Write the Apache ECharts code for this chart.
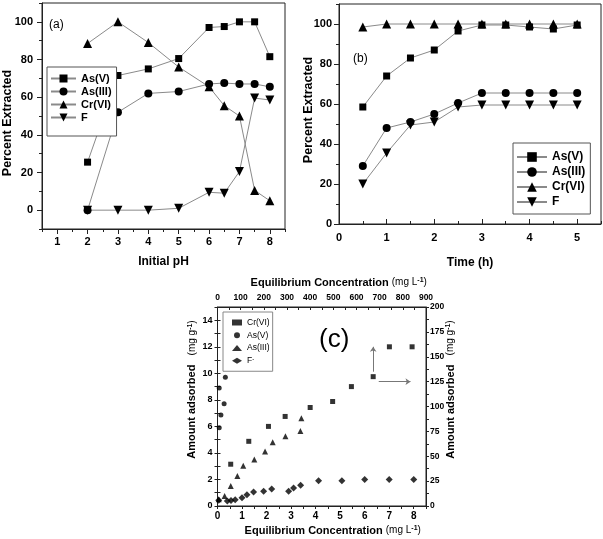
<!DOCTYPE html>
<html><head><meta charset="utf-8">
<script src="https://cdn.jsdelivr.net/npm/echarts@6/dist/echarts.min.js"></script>
<style>html,body{margin:0;padding:0;background:#fff}#c{width:603px;height:539px}</style>
</head><body><div id="c"></div>
<script>
// ---------- Panel (a): percent extracted vs initial pH ----------
const phValues = [2, 3, 4, 5, 6, 6.5, 7, 7.5, 8];
const phAsV   = [25.5, 71.5, 75, 80.5, 97, 97.5, 100, 100, 81.5];
const phAsIII = [0, 52, 62, 63, 67, 67.5, 67, 67, 65.5];
const phCrVI  = [88.5, 100, 89, 76, 65.5, 55.5, 50, 10.5, 5];
const phF     = [0, 0, 0, 1, 9.5, 9, 20.5, 59.5, 58.5];
// ---------- Panel (b): percent extracted vs time ----------
const timeValues = [0.5, 1, 1.5, 2, 2.5, 3, 3.5, 4, 4.5, 5];
const tAsV   = [58.5, 74, 83, 87, 96.5, 99.5, 99.5, 98.5, 97.5, 99.5];
const tAsIII = [29, 48, 51, 55, 60.5, 65.5, 65.5, 65.5, 65.5, 65.5];
const tCrVI  = [98.5, 100, 100, 100, 100, 100, 100, 100, 100, 100];
const tF     = [20, 35.5, 49.5, 51, 58.5, 59.5, 59.5, 59.5, 59.5, 59.5];
// ---------- Panel (c): adsorption isotherms ----------
// Cr(VI) is read on the top (mg/L) and right (mg/g) axes
const crEqConc   = [57, 135, 220, 292, 400, 497, 578, 672, 742, 840];
const crAdsorbed = [42, 65, 80, 90, 99, 105, 120, 130, 160, 160];
const asVEqConc   = [0.07, 0.07, 0.14, 0.27, 0.32];
const asVAdsorbed = [5.9, 8.9, 6.85, 7.7, 9.7];
const asIIIEqConc   = [0.05, 0.29, 0.54, 0.81, 1.05, 1.5, 1.94, 2.25, 2.77, 3.38, 3.42];
const asIIIAdsorbed = [0.5, 0.76, 1.5, 2.27, 3.03, 3.5, 4.1, 4.8, 5.25, 5.65, 6.62];
const fEqConc   = [0.05, 0.4, 0.55, 0.72, 1.0, 1.2, 1.47, 1.88, 2.21, 2.9, 3.1, 3.39, 4.12, 5.07, 6.0, 7.0, 8.0];
const fAdsorbed = [0.43, 0.38, 0.42, 0.48, 0.62, 0.85, 1.05, 1.12, 1.28, 1.12, 1.36, 1.57, 1.9, 1.9, 2.0, 2.0, 2.0];
// arrows (data coords on top/right axes)
const arrowUp    = [[672, 135], [672, 160]];
const arrowRight = [[696, 125], [833, 125]];
// ---------- tick labels ----------
const phTicks   = [1, 2, 3, 4, 5, 6, 7, 8];
const pctTicks  = [0, 20, 40, 60, 80, 100];
const timeTicks = [0, 1, 2, 3, 4, 5];
const concTicks = [0, 1, 2, 3, 4, 5, 6, 7, 8];
const adsTicks  = [0, 2, 4, 6, 8, 10, 12, 14];
const concTopTicks  = [0, 100, 200, 300, 400, 500, 600, 700, 800, 900];
const adsRightTicks = [0, 25, 50, 75, 100, 125, 150, 175, 200];

const FF = '"Liberation Sans", Arial, sans-serif';
const AX = '#222';
const LINE = '#8a8a8a';
const downTri = 'path://M0,0L10,0L5,9Z';

function pair(xs, ys) { return xs.map((x, i) => [x, ys[i]]); }
function onlyIn(list) { return v => (list.indexOf(+(+v).toFixed(4)) >= 0 ? String(+v) : ''); }

function axis(o) {
  const a = {
    type: 'value',
    gridIndex: o.grid,
    position: o.position,
    min: o.min, max: o.max, interval: o.interval,
    splitLine: { show: false },
    axisLine: { show: o.line !== false, onZero: false, lineStyle: { color: AX, width: 1 } },
    axisTick: { show: true, inside: !!o.inside, length: o.tickLen || 3, lineStyle: { color: AX, width: 1 } },
    axisLabel: o.labels ? {
      show: true, color: '#000', fontFamily: FF, fontWeight: 'bold', fontSize: o.fontSize || 11,
      margin: o.margin, formatter: onlyIn(o.labels)
    } : { show: false }
  };
  if (o.customTicks) a.axisTick.customValues = o.customTicks;
  if (o.name) {
    a.name = o.name;
    a.nameLocation = 'middle';
    a.nameGap = o.nameGap;
    a.nameMoveOverlap = false;
    a.nameTextStyle = Object.assign({ color: '#000', fontFamily: FF, fontWeight: 'bold', fontSize: 12 }, o.nameStyle || {});
  }
  return a;
}

const supRich = {
  n: { fontFamily: FF, fontSize: 10, fontWeight: 'normal', color: '#000' },
  sup: { fontFamily: FF, fontSize: 7, fontWeight: 'bold', color: '#000', verticalAlign: 'top' }
};

const xAxes = [
  axis({ grid: 0, position: 'bottom', min: 0.5, max: 8.5, interval: 0.5, labels: phTicks, margin: 7,
         name: 'Initial pH', nameGap: 27 }),
  axis({ grid: 0, position: 'bottom', min: 0.5, max: 8.5, interval: 0.5, line: false, tickLen: 5, customTicks: phTicks }),
  axis({ grid: 1, position: 'bottom', min: 0, max: 5.5, interval: 0.5, inside: true, labels: timeTicks, margin: 8,
         name: 'Time (h)', nameGap: 33 }),
  axis({ grid: 1, position: 'bottom', min: 0, max: 5.5, interval: 0.5, inside: true, line: false, tickLen: 5, customTicks: timeTicks }),
  axis({ grid: 2, position: 'bottom', min: 0, max: 8.5, interval: 0.5, labels: concTicks, margin: 5, fontSize: 10,
         name: 'Equilibrium Concentration {n|(mg L}{sup|-1}{n|)}', nameGap: 19,
         nameStyle: { fontSize: 11, padding: [0, 0, 0, 22], rich: supRich } }),
  axis({ grid: 2, position: 'top', min: 0, max: 900, interval: 50, inside: true, labels: concTopTicks, margin: 5, fontSize: 8.5,
         name: 'Equilibrium Concentration {n|(mg L}{sup|-1}{n|)}', nameGap: 19,
         nameStyle: { fontSize: 11, padding: [0, 0, 0, 34], rich: supRich } })
];

const yAxes = [
  axis({ grid: 0, position: 'left', min: -10, max: 110, interval: 10, labels: pctTicks, margin: 9,
         name: 'Percent Extracted', nameGap: 28, nameStyle: { fontSize: 12.5, padding: [0, 14, 0, 0] } }),
  axis({ grid: 0, position: 'left', min: -10, max: 110, interval: 10, line: false, tickLen: 5, customTicks: pctTicks }),
  axis({ grid: 1, position: 'left', min: 0, max: 110, interval: 10, labels: pctTicks, margin: 7,
         name: 'Percent Extracted', nameGap: 24, nameStyle: { fontSize: 12.5, padding: [0, 0, 0, 8] } }),
  axis({ grid: 1, position: 'left', min: 0, max: 110, interval: 10, line: false, tickLen: 5, customTicks: pctTicks }),
  axis({ grid: 2, position: 'left', min: 0, max: 15, interval: 1, labels: adsTicks, margin: 5, fontSize: 9,
         name: 'Amount adsorbed   {n|(mg g}{sup|-1}{n|)}', nameGap: 20,
         nameStyle: { fontSize: 11, padding: [0, 0, 0, 34], rich: supRich } }),
  axis({ grid: 2, position: 'left', min: 0, max: 15, interval: 1, inside: true, line: false, tickLen: 3 }),
  axis({ grid: 2, position: 'right', min: 0, max: 200, interval: 12.5, labels: adsRightTicks, margin: 4, fontSize: 8.5,
         name: 'Amount adsorbed   {n|(mg g}{sup|-1}{n|)}', nameGap: 19,
         nameStyle: { fontSize: 11, padding: [0, 0, 0, 34], rich: supRich } })
];

function lineSeries(name, xi, yi, xs, ys, symbol, size) {
  return {
    type: 'line', name, xAxisIndex: xi, yAxisIndex: yi, data: pair(xs, ys),
    symbol, symbolSize: size, showAllSymbol: true,
    itemStyle: { color: '#000' },
    lineStyle: { color: LINE, width: 1 },
    emphasis: { disabled: true }
  };
}
function scatterSeries(name, xi, yi, xs, ys, symbol, size, extra) {
  return Object.assign({
    type: 'scatter', name, xAxisIndex: xi, yAxisIndex: yi, data: pair(xs, ys),
    symbol, symbolSize: size, itemStyle: { color: '#000' }, emphasis: { disabled: true }
  }, extra || {});
}

const series = [
  lineSeries('As(V)', 0, 0, phValues, phAsV, 'rect', 7),
  lineSeries('As(III)', 0, 0, phValues, phAsIII, 'circle', 8),
  lineSeries('Cr(VI)', 0, 0, phValues, phCrVI, 'triangle', 9),
  lineSeries('F', 0, 0, phValues, phF, downTri, 9),
  lineSeries('As(V)', 2, 2, timeValues, tAsV, 'rect', 7),
  lineSeries('As(III)', 2, 2, timeValues, tAsIII, 'circle', 8),
  lineSeries('Cr(VI)', 2, 2, timeValues, tCrVI, 'triangle', 9),
  lineSeries('F', 2, 2, timeValues, tF, downTri, 9),
  scatterSeries('c Cr(VI)', 5, 6, crEqConc, crAdsorbed, 'rect', 5, {
    markLine: {
      silent: true, symbol: ['none', 'arrow'], symbolSize: 5, animation: false,
      label: { show: false }, lineStyle: { color: '#777', width: 1, type: 'solid' },
      emphasis: { disabled: true },
      data: [
        [{ coord: arrowUp[0] }, { coord: arrowUp[1] }],
        [{ coord: arrowRight[0] }, { coord: arrowRight[1] }]
      ]
    }
  }),
  scatterSeries('c As(V)', 4, 4, asVEqConc, asVAdsorbed, 'circle', 5),
  scatterSeries('c As(III)', 4, 4, asIIIEqConc, asIIIAdsorbed, 'triangle', 6),
  scatterSeries('c F', 4, 4, fEqConc, fAdsorbed, 'diamond', 7)
];

const legendBase = {
  orient: 'vertical', selectedMode: false, borderWidth: 1, backgroundColor: '#fff'
};

const option = {
  animation: false,
  backgroundColor: '#fff',
  grid: [
    { left: 42, top: 3, width: 243, height: 226, show: true, borderColor: AX, borderWidth: 1, outerBoundsMode: 'none' },
    { left: 339, top: 4, width: 262, height: 220, show: true, borderColor: AX, borderWidth: 1, outerBoundsMode: 'none' },
    { left: 217.5, top: 307, width: 208.5, height: 199, show: true, borderColor: AX, borderWidth: 1, outerBoundsMode: 'none' }
  ],
  xAxis: xAxes,
  yAxis: yAxes,
  legend: [
    Object.assign({}, legendBase, {
      left: 47, top: 67, padding: [6, 5, 13, 3], itemWidth: 25, itemHeight: 10, itemGap: 2,
      borderColor: '#555',
      textStyle: { fontFamily: FF, fontWeight: 'bold', fontSize: 11, color: '#000' },
      data: ['As(V)', 'As(III)', 'Cr(VI)', 'F']
    }),
    Object.assign({}, legendBase, {
      left: 513, top: 143, padding: [8, 5, 6, 3], itemWidth: 30, itemHeight: 12, itemGap: 3,
      borderColor: '#555',
      textStyle: { fontFamily: FF, fontWeight: 'bold', fontSize: 12, color: '#000' },
      data: ['As(V)', 'As(III)', 'Cr(VI)', 'F']
    }),
    Object.assign({}, legendBase, {
      left: 223, top: 312, padding: [6, 3, 6, 9], itemWidth: 10, itemHeight: 6, itemGap: 3.75,
      borderColor: '#888',
      textStyle: { fontFamily: FF, fontSize: 8.5, color: '#000',
        rich: { s: { fontFamily: FF, fontSize: 6, verticalAlign: 'top', color: '#000' } } },
      formatter: n => (n === 'c F' ? 'F{s|-}' : n.slice(2)),
      data: ['c Cr(VI)', 'c As(V)', 'c As(III)', 'c F']
    })
  ],
  graphic: [
    { type: 'text', left: 49, top: 19, style: { text: '(a)', font: '12px ' + FF, fill: '#000' } },
    { type: 'text', left: 353, top: 53, style: { text: '(b)', font: '12px ' + FF, fill: '#000' } },
    { type: 'text', left: 319, top: 327, style: { text: '(c)', font: '26px ' + FF, fill: '#000' } }
  ],
  series
};

const chart = echarts.init(document.getElementById('c'), null, { renderer: 'canvas' });
chart.setOption(option);
</script>
</body></html>
